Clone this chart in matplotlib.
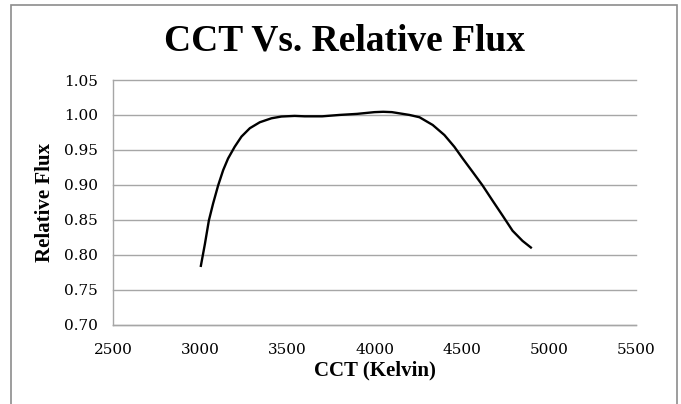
import matplotlib
matplotlib.use("Agg")
import matplotlib.pyplot as plt
from matplotlib.patches import Rectangle

# values
cct = [3004, 3027, 3050, 3074, 3103, 3132, 3160, 3198, 3237, 3285,
       3342, 3409, 3466, 3542, 3600, 3700, 3800, 3900, 4000, 4050,
       4100, 4200, 4258, 4334, 4401, 4458, 4506, 4563, 4620, 4677,
       4735, 4792, 4849, 4897]
flux = [0.784, 0.815, 0.849, 0.873, 0.899, 0.921, 0.9376, 0.9544, 0.969, 0.981,
        0.9895, 0.9952, 0.9977, 0.9986, 0.998, 0.998, 1.000, 1.0015, 1.004, 1.0045,
        1.004, 1.000, 0.9967, 0.9856, 0.9712, 0.9544, 0.9376, 0.9184, 0.899, 0.8774,
        0.8558, 0.8342, 0.8197, 0.8102]

x_ticks = [2500, 3000, 3500, 4000, 4500, 5000, 5500]
y_ticks = [0.70, 0.75, 0.80, 0.85, 0.90, 0.95, 1.00, 1.05]

fig = plt.figure(figsize=(6.81, 4.04), dpi=100)
ax = fig.add_axes([113 / 681, 1 - 324.5 / 404, 523 / 681, 244.5 / 404])

ax.plot(cct, flux, color="black", linewidth=1.7, solid_joinstyle="round")

ax.set_xlim(2500, 5500)
ax.set_ylim(0.70, 1.05)
ax.set_xticks(x_ticks)
ax.set_yticks(y_ticks)
ax.set_yticklabels([f"{v:.2f}" for v in y_ticks])
ax.tick_params(length=0, labelsize=11, colors="black")
ax.tick_params(axis="x", pad=13)
ax.tick_params(axis="y", pad=11)
for lab in ax.get_xticklabels() + ax.get_yticklabels():
    lab.set_fontfamily("DejaVu Serif")

ax.yaxis.grid(True, color="#a6a6a6", linewidth=1.0)
for gl in ax.get_ygridlines():
    gl.set_clip_on(False)
ax.set_axisbelow(True)

for side in ["top", "right"]:
    ax.spines[side].set_visible(False)
for side in ["left", "bottom"]:
    ax.spines[side].set_color("#a6a6a6")
    ax.spines[side].set_linewidth(1.0)

ax.set_xlabel("CCT (Kelvin)", fontsize=15, fontweight="bold",
              fontfamily="Liberation Serif", labelpad=3)
ax.set_ylabel("Relative Flux", fontsize=15, fontweight="bold",
              fontfamily="Liberation Serif", labelpad=6)

fig.text(344 / 681, 1 - 41 / 404, "CCT Vs. Relative Flux", ha="center", va="center",
         fontsize=27, fontweight="bold", fontfamily="Liberation Serif")

# outer chart border
fig.patches.append(Rectangle((11 / 681, -0.1), 666 / 681, 1.1 - 5 / 404,
                             transform=fig.transFigure, fill=False,
                             edgecolor="#8c8c8c", linewidth=1.2))

fig.savefig("out.png", dpi=100)
